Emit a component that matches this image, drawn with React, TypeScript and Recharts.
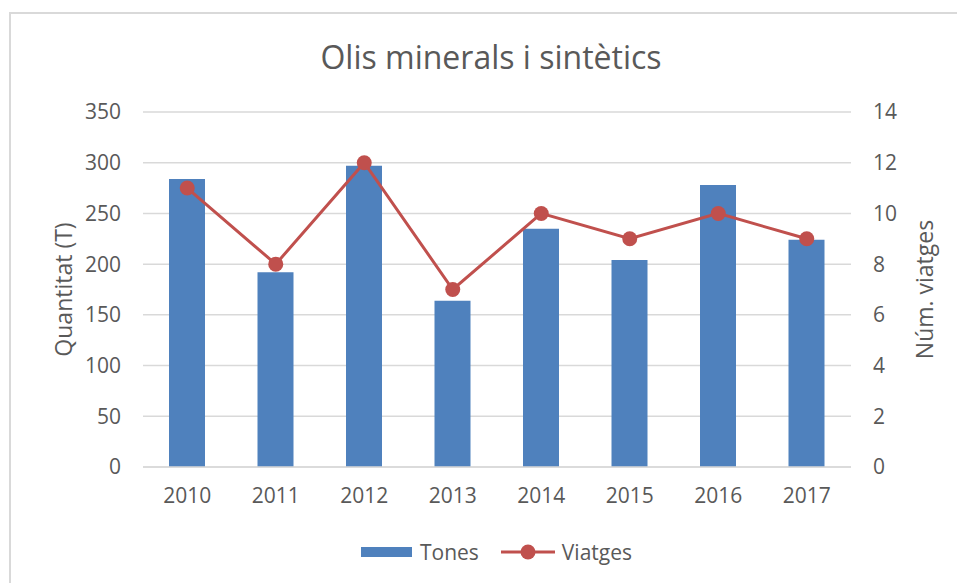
import { Bar, CartesianGrid, ComposedChart, Line, XAxis, YAxis } from 'recharts'

const YEARS = ['2010', '2011', '2012', '2013', '2014', '2015', '2016', '2017']
const TONES = [284, 192, 297, 164, 235, 204, 278, 224]
const VIATGES = [11, 8, 12, 7, 10, 9, 10, 9]
const TONES_TICKS = [0, 50, 100, 150, 200, 250, 300, 350]
const VIATGES_TICKS = [0, 2, 4, 6, 8, 10, 12, 14]

const W = 957
const H = 583
const FONT = '"Open Sans", sans-serif'
const TEXT = '#595959'
const GRID = '#d9d9d9'
const BAR_COLOR = '#4f81bd'
const LINE_COLOR = '#c0504d'

const data = YEARS.map((year, i) => ({ year, tones: TONES[i], viatges: VIATGES[i] }))

const tick = { fontSize: 21, fill: TEXT, fontFamily: FONT }

// títol de l'eix en vertical, desplaçat dins la caixa de l'eix
function axisTitle(text: string, dx: number) {
  return (props: any) => {
    const vb = props.viewBox ?? { x: 0, y: 0, width: 0, height: 0 }
    const cx = vb.x + dx
    const cy = vb.y + vb.height / 2
    return (
      <text
        x={cx}
        y={cy}
        transform={`rotate(-90 ${cx} ${cy})`}
        textAnchor="middle"
        dominantBaseline="central"
        fontSize={23}
        fontFamily={FONT}
        fill={TEXT}
      >
        {text}
      </text>
    )
  }
}

function LegendRow() {
  return (
    <div
      style={{
        position: 'absolute',
        top: 538,
        left: 0,
        width: W,
        display: 'flex',
        justifyContent: 'center',
        alignItems: 'center',
        fontFamily: FONT,
        fontSize: 21,
        color: TEXT,
        paddingLeft: 36,
        boxSizing: 'border-box',
      }}
    >
      <svg width={51} height={12} style={{ marginRight: 8 }}>
        <rect x={0} y={1} width={51} height={10} fill={BAR_COLOR} />
      </svg>
      <span>Tones</span>
      <svg width={54} height={16} style={{ marginLeft: 22, marginRight: 7 }}>
        <line x1={0} y1={8} x2={54} y2={8} stroke={LINE_COLOR} strokeWidth={3} />
        <circle cx={27} cy={8} r={7.5} fill={LINE_COLOR} />
      </svg>
      <span>Viatges</span>
    </div>
  )
}

export default function App() {
  return (
    <div
      style={{
        position: 'absolute',
        left: 0,
        top: 0,
        width: W,
        height: H,
        overflow: 'hidden',
        background: '#fff',
      }}
    >
      <div
        style={{
          position: 'absolute',
          left: 9,
          top: 12,
          width: W + 20,
          height: H + 20,
          border: '2px solid #d9d9d9',
        }}
      />
      <div
        style={{
          position: 'absolute',
          top: 35,
          left: 0,
          width: W,
          paddingLeft: 25,
          boxSizing: 'border-box',
          textAlign: 'center',
          fontFamily: FONT,
          fontSize: 32,
          color: TEXT,
          lineHeight: '44px',
        }}
      >
        Olis minerals i sintètics
      </div>
      <div style={{ position: 'absolute', left: 0, top: 0 }}>
        <ComposedChart width={W} height={H} data={data} margin={{ top: 112, right: 0, bottom: 86, left: 0 }}>
          <CartesianGrid vertical={false} stroke={GRID} strokeWidth={1.5} yAxisId="left" />
          <XAxis
            dataKey="year"
            tick={tick}
            tickLine={false}
            axisLine={{ stroke: GRID, strokeWidth: 1.5 }}
            tickSize={0}
            tickMargin={21}
            height={30}
          />
          <YAxis
            yAxisId="left"
            domain={[0, 350]}
            ticks={TONES_TICKS}
            tick={tick}
            tickLine={false}
            axisLine={false}
            tickSize={0}
            tickMargin={22}
            width={143}
            label={{ content: axisTitle('Quantitat (T)', 63) }}
          />
          <YAxis
            yAxisId="right"
            orientation="right"
            domain={[0, 14]}
            ticks={VIATGES_TICKS}
            tick={tick}
            tickLine={false}
            axisLine={false}
            tickSize={0}
            tickMargin={22}
            width={106}
            label={{ content: axisTitle('Núm. viatges', 73) }}
          />
          <Bar yAxisId="left" dataKey="tones" name="Tones" fill={BAR_COLOR} barSize={36} isAnimationActive={false} />
          <Line
            yAxisId="right"
            dataKey="viatges"
            name="Viatges"
            type="linear"
            stroke={LINE_COLOR}
            strokeWidth={3}
            dot={{ r: 7.5, fill: LINE_COLOR, stroke: LINE_COLOR, strokeWidth: 0 }}
            activeDot={false}
            isAnimationActive={false}
          />
        </ComposedChart>
      </div>
      <LegendRow />
    </div>
  )
}
